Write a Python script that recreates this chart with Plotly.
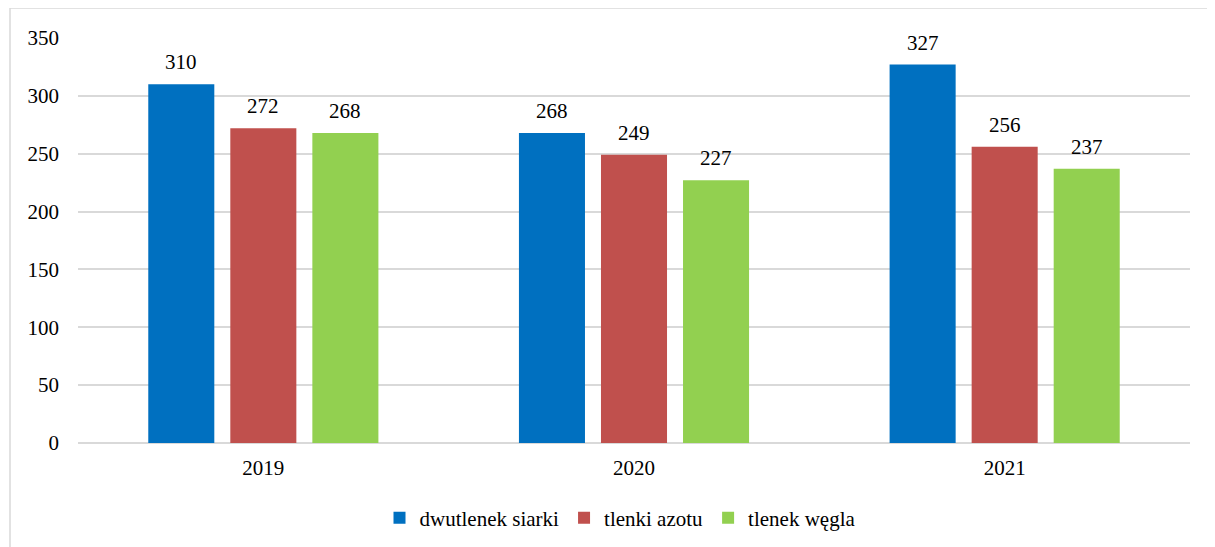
import plotly.graph_objects as go

years = ["2019", "2020", "2021"]
series_names = ["dwutlenek siarki", "tlenki azotu", "tlenek węgla"]
so2 = [310, 268, 327]
nox = [272, 249, 256]
co = [268, 227, 237]
colors = ["#0070C0", "#C0504D", "#92D050"]

FONT = "Liberation Serif, Times New Roman, serif"
FS = 21

fig = go.Figure()
for name, vals, col in zip(series_names, [so2, nox, co], colors):
    fig.add_trace(go.Bar(
        x=years, y=vals, name=name, marker_color=col,
        marker_line_width=0,
    ))

# page has 8px body margin; bottom margin big enough that the legend does not push it
L, R, T, B = 70, 25, 30, 112
W, H = 1207, 547
pw, ph = W - L - R, H - T - B

# value labels above bars (x given as category index)
offsets = [-82, 0, 82]
annotations = []
for vals, off in zip([so2, nox, co], offsets):
    for i, v in enumerate(vals):
        annotations.append(dict(x=i, y=v, xref="x", yref="y", text=str(v), showarrow=False,
                                xshift=off, yshift=8, yanchor="bottom",
                                font=dict(family=FONT, size=FS, color="#000000")))

fig.update_layout(
    width=W, height=H,
    margin=dict(l=L, r=R, t=T, b=B),
    paper_bgcolor="white", plot_bgcolor="white",
    barmode="group", bargap=0.336, bargroupgap=0.195,
    font=dict(family=FONT, size=FS, color="#000000"),
    showlegend=True,
    legend=dict(orientation="h", x=(612 - L) / pw, xanchor="center", y=-(510 - 435) / ph,
                yanchor="middle", font=dict(family=FONT, size=FS), itemwidth=30,
                traceorder="normal"),
    xaxis=dict(type="category", range=[-0.5, len(years) - 0.5], showgrid=False, showline=False,
               ticks="", ticklabelstandoff=10, tickfont=dict(family=FONT, size=FS)),
    yaxis=dict(range=[0, 350], dtick=50, showgrid=True, gridcolor="#d9d9d9", gridwidth=1.5,
               zeroline=True, zerolinecolor="#d9d9d9", zerolinewidth=1.5,
               showline=False, ticks="", ticklabelstandoff=18,
               tickfont=dict(family=FONT, size=FS)),
    annotations=annotations,
    shapes=[dict(type="rect", xref="paper", yref="paper",
                 x0=(2 - L) / pw, x1=(W + 20 - L) / pw,
                 y0=-(B + 20) / ph, y1=(T + ph) / ph,
                 line=dict(color="#d9d9d9", width=1.5), fillcolor="rgba(0,0,0,0)", layer="below")],
)

fig.write_html("out.html")
